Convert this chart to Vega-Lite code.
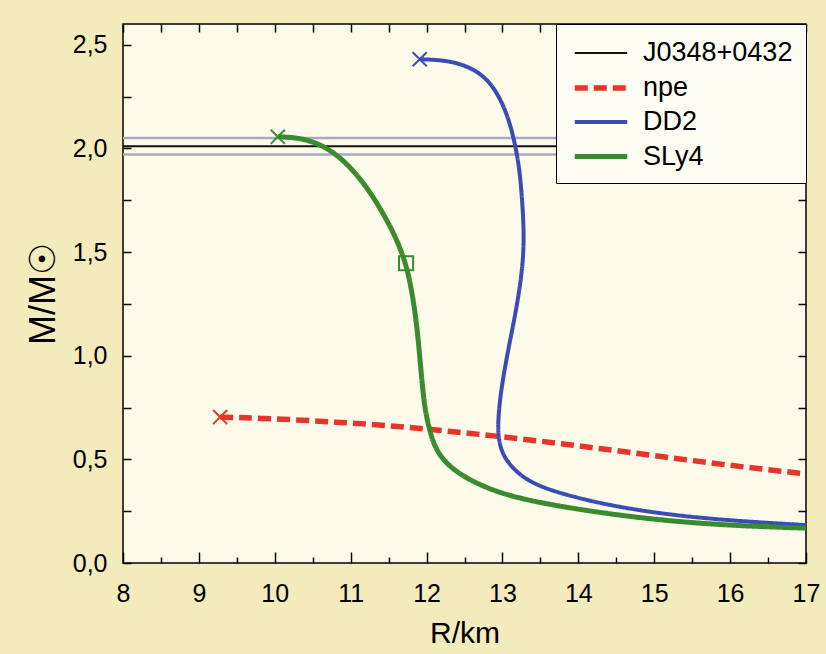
{
  "$schema": "https://vega.github.io/schema/vega-lite/v6.json",
  "width": 683,
  "height": 539,
  "autosize": {"type": "none"},
  "padding": {"left": 123, "top": 24, "right": 20, "bottom": 91},
  "background": "#f4ebbd",
  "config": {
    "view": {"stroke": "black", "strokeWidth": 1.5, "fill": "#fcfbea"},
    "font": "Liberation Sans",
    "axis": {"domain": false, "grid": false, "tickColor": "black", "tickWidth": 1.5, "labelColor": "black", "titleColor": "black", "labelFont": "Liberation Sans", "titleFont": "Liberation Sans", "titleFontWeight": "normal", "labelFontSize": 25, "titleFontSize": 30}
  },
  "datasets": {
    "curves": [
      {"series": "J0348+0432", "i": 0, "R": 8, "M": 2.01},
      {"series": "J0348+0432", "i": 1, "R": 17, "M": 2.01},
      {"series": "npe", "i": 0, "R": 9.28, "M": 0.704},
      {"series": "npe", "i": 1, "R": 9.6, "M": 0.701},
      {"series": "npe", "i": 2, "R": 10.1, "M": 0.694},
      {"series": "npe", "i": 3, "R": 10.6, "M": 0.684},
      {"series": "npe", "i": 4, "R": 11.0, "M": 0.675},
      {"series": "npe", "i": 5, "R": 11.5, "M": 0.663},
      {"series": "npe", "i": 6, "R": 12.0, "M": 0.646},
      {"series": "npe", "i": 7, "R": 12.5, "M": 0.628},
      {"series": "npe", "i": 8, "R": 13.0, "M": 0.609},
      {"series": "npe", "i": 9, "R": 13.5, "M": 0.588},
      {"series": "npe", "i": 10, "R": 14.0, "M": 0.565},
      {"series": "npe", "i": 11, "R": 14.5, "M": 0.542},
      {"series": "npe", "i": 12, "R": 15.0, "M": 0.518},
      {"series": "npe", "i": 13, "R": 15.5, "M": 0.494},
      {"series": "npe", "i": 14, "R": 16.0, "M": 0.471},
      {"series": "npe", "i": 15, "R": 16.5, "M": 0.45},
      {"series": "npe", "i": 16, "R": 17.0, "M": 0.43},
      {"series": "DD2", "i": 0, "R": 11.91, "M": 2.43},
      {"series": "DD2", "i": 1, "R": 12.08, "M": 2.428},
      {"series": "DD2", "i": 2, "R": 12.26, "M": 2.422},
      {"series": "DD2", "i": 3, "R": 12.4, "M": 2.411},
      {"series": "DD2", "i": 4, "R": 12.53, "M": 2.395},
      {"series": "DD2", "i": 5, "R": 12.65, "M": 2.373},
      {"series": "DD2", "i": 6, "R": 12.75, "M": 2.346},
      {"series": "DD2", "i": 7, "R": 12.84, "M": 2.312},
      {"series": "DD2", "i": 8, "R": 12.92, "M": 2.27},
      {"series": "DD2", "i": 9, "R": 12.99, "M": 2.222},
      {"series": "DD2", "i": 10, "R": 13.05, "M": 2.17},
      {"series": "DD2", "i": 11, "R": 13.1, "M": 2.115},
      {"series": "DD2", "i": 12, "R": 13.14, "M": 2.06},
      {"series": "DD2", "i": 13, "R": 13.19, "M": 1.975},
      {"series": "DD2", "i": 14, "R": 13.23, "M": 1.879},
      {"series": "DD2", "i": 15, "R": 13.26, "M": 1.75},
      {"series": "DD2", "i": 16, "R": 13.28, "M": 1.62},
      {"series": "DD2", "i": 17, "R": 13.28, "M": 1.5},
      {"series": "DD2", "i": 18, "R": 13.24, "M": 1.35},
      {"series": "DD2", "i": 19, "R": 13.16, "M": 1.18},
      {"series": "DD2", "i": 20, "R": 13.06, "M": 1.0},
      {"series": "DD2", "i": 21, "R": 12.98, "M": 0.83},
      {"series": "DD2", "i": 22, "R": 12.95, "M": 0.72},
      {"series": "DD2", "i": 23, "R": 12.94, "M": 0.642},
      {"series": "DD2", "i": 24, "R": 12.96, "M": 0.577},
      {"series": "DD2", "i": 25, "R": 13.01, "M": 0.521},
      {"series": "DD2", "i": 26, "R": 13.1, "M": 0.473},
      {"series": "DD2", "i": 27, "R": 13.23, "M": 0.425},
      {"series": "DD2", "i": 28, "R": 13.41, "M": 0.384},
      {"series": "DD2", "i": 29, "R": 13.63, "M": 0.352},
      {"series": "DD2", "i": 30, "R": 13.93, "M": 0.32},
      {"series": "DD2", "i": 31, "R": 14.42, "M": 0.277},
      {"series": "DD2", "i": 32, "R": 15.17, "M": 0.233},
      {"series": "DD2", "i": 33, "R": 16.05, "M": 0.203},
      {"series": "DD2", "i": 34, "R": 17.0, "M": 0.183},
      {"series": "SLy4", "i": 0, "R": 10.04, "M": 2.056},
      {"series": "SLy4", "i": 1, "R": 10.29, "M": 2.052},
      {"series": "SLy4", "i": 2, "R": 10.51, "M": 2.032},
      {"series": "SLy4", "i": 3, "R": 10.69, "M": 2.0},
      {"series": "SLy4", "i": 4, "R": 10.86, "M": 1.956},
      {"series": "SLy4", "i": 5, "R": 11.02, "M": 1.898},
      {"series": "SLy4", "i": 6, "R": 11.17, "M": 1.832},
      {"series": "SLy4", "i": 7, "R": 11.31, "M": 1.758},
      {"series": "SLy4", "i": 8, "R": 11.43, "M": 1.684},
      {"series": "SLy4", "i": 9, "R": 11.54, "M": 1.61},
      {"series": "SLy4", "i": 10, "R": 11.63, "M": 1.538},
      {"series": "SLy4", "i": 11, "R": 11.7, "M": 1.47},
      {"series": "SLy4", "i": 12, "R": 11.76, "M": 1.395},
      {"series": "SLy4", "i": 13, "R": 11.82, "M": 1.28},
      {"series": "SLy4", "i": 14, "R": 11.87, "M": 1.15},
      {"series": "SLy4", "i": 15, "R": 11.91, "M": 1.0},
      {"series": "SLy4", "i": 16, "R": 11.95, "M": 0.83},
      {"series": "SLy4", "i": 17, "R": 11.99, "M": 0.72},
      {"series": "SLy4", "i": 18, "R": 12.04, "M": 0.642},
      {"series": "SLy4", "i": 19, "R": 12.09, "M": 0.58},
      {"series": "SLy4", "i": 20, "R": 12.16, "M": 0.529},
      {"series": "SLy4", "i": 21, "R": 12.25, "M": 0.487},
      {"series": "SLy4", "i": 22, "R": 12.37, "M": 0.447},
      {"series": "SLy4", "i": 23, "R": 12.54, "M": 0.407},
      {"series": "SLy4", "i": 24, "R": 12.75, "M": 0.37},
      {"series": "SLy4", "i": 25, "R": 12.97, "M": 0.339},
      {"series": "SLy4", "i": 26, "R": 13.23, "M": 0.313},
      {"series": "SLy4", "i": 27, "R": 13.49, "M": 0.292},
      {"series": "SLy4", "i": 28, "R": 13.85, "M": 0.268},
      {"series": "SLy4", "i": 29, "R": 14.42, "M": 0.236},
      {"series": "SLy4", "i": 30, "R": 15.17, "M": 0.203},
      {"series": "SLy4", "i": 31, "R": 16.05, "M": 0.18},
      {"series": "SLy4", "i": 32, "R": 17.0, "M": 0.168}
    ],
    "band": [{"M": 2.05}, {"M": 1.97}],
    "markers": [
      {"series": "npe", "kind": "x", "R": 9.28, "M": 0.704},
      {"series": "DD2", "kind": "x", "R": 11.91, "M": 2.43},
      {"series": "SLy4", "kind": "x", "R": 10.04, "M": 2.056},
      {"series": "SLy4", "kind": "sq", "R": 11.73, "M": 1.446}
    ]
  },
  "resolve": {"scale": {"x": "independent", "y": "independent"}, "axis": {"x": "independent", "y": "independent"}},
  "layer": [
    {
      "data": {"name": "band"},
      "mark": {"type": "rule", "color": "#aba8bd", "strokeWidth": 2.5},
      "encoding": {
        "y": {"field": "M", "type": "quantitative", "scale": {"domain": [0, 2.6]}, "axis": null}
      }
    },
    {
      "data": {"name": "curves"},
      "mark": {"type": "line", "interpolate": "basis", "clip": true},
      "encoding": {
        "x": {"field": "R", "type": "quantitative", "scale": {"domain": [8, 17], "nice": false},
          "axis": {"orient": "bottom", "title": "R/km", "values": [8, 8.5, 9, 9.5, 10, 10.5, 11, 11.5, 12, 12.5, 13, 13.5, 14, 14.5, 15, 15.5, 16, 16.5, 17],
            "labelExpr": "datum.value % 1 === 0 ? format(datum.value, 'd') : ''",
            "tickSize": {"condition": {"test": "datum.value % 1 === 0", "value": -11}, "value": -6},
            "labelPadding": 29, "titlePadding": 12, "labelFlush": false}},
        "y": {"field": "M", "type": "quantitative", "scale": {"domain": [0, 2.6], "nice": false},
          "axis": {"orient": "left", "title": "M/M☉", "titleFontSize": 36, "values": [0, 0.25, 0.5, 0.75, 1, 1.25, 1.5, 1.75, 2, 2.25, 2.5],
            "labelExpr": "datum.value % 0.5 === 0 ? replace(format(datum.value, '.1f'), '.', ',') : ''",
            "tickSize": -8,
            "labelPadding": 24, "titlePadding": 10, "labelFlush": false}},
        "order": {"field": "i", "type": "quantitative"},
        "color": {"field": "series", "type": "nominal", "title": null,
          "scale": {"domain": ["J0348+0432", "npe", "DD2", "SLy4"], "range": ["#111111", "#e8352c", "#3b4cb5", "#3a8a2f"]},
          "legend": {"orient": "top-right", "offset": 0, "fillColor": "#fdfdf4", "strokeColor": "black", "padding": 13,
            "labelFontSize": 27, "labelFont": "Liberation Sans", "labelColor": "black", "symbolType": "M-1.75,0L1.75,0", "symbolSize": 900,
            "symbolOffset": 14, "rowPadding": 4, "labelOffset": 24, "labelLimit": 300}},
        "strokeDash": {"field": "series", "type": "nominal", "title": null,
          "scale": {"domain": ["J0348+0432", "npe", "DD2", "SLy4"], "range": [[1, 0], [13, 6], [1, 0], [1, 0]]}},
        "strokeWidth": {"field": "series", "type": "nominal", "title": null,
          "scale": {"type": "ordinal", "domain": ["J0348+0432", "npe", "DD2", "SLy4"], "range": [2, 5.5, 4, 5]}}
      }
    },
    {
      "data": {"name": "markers"},
      "mark": {"type": "point", "filled": false, "strokeWidth": 2, "size": 200, "opacity": 1},
      "encoding": {
        "x": {"field": "R", "type": "quantitative", "scale": {"domain": [8, 17], "nice": false},
          "axis": {"orient": "top", "title": null, "labels": false, "values": [8, 8.5, 9, 9.5, 10, 10.5, 11, 11.5, 12, 12.5, 13, 13.5, 14, 14.5, 15, 15.5, 16, 16.5, 17], "tickSize": -8}},
        "y": {"field": "M", "type": "quantitative", "scale": {"domain": [0, 2.6], "nice": false},
          "axis": {"orient": "right", "title": null, "labels": false, "values": [0, 0.25, 0.5, 0.75, 1, 1.25, 1.5, 1.75, 2, 2.25, 2.5], "tickSize": -8}},
        "stroke": {"field": "series", "type": "nominal", "legend": null,
          "scale": {"domain": ["npe", "DD2", "SLy4"], "range": ["#e8352c", "#3b4cb5", "#3a8a2f"]}},
        "shape": {"field": "kind", "type": "nominal", "legend": null,
          "scale": {"domain": ["x", "sq"], "range": ["M-1,-1L1,1M-1,1L1,-1", "square"]}}
      }
    }
  ]
}
